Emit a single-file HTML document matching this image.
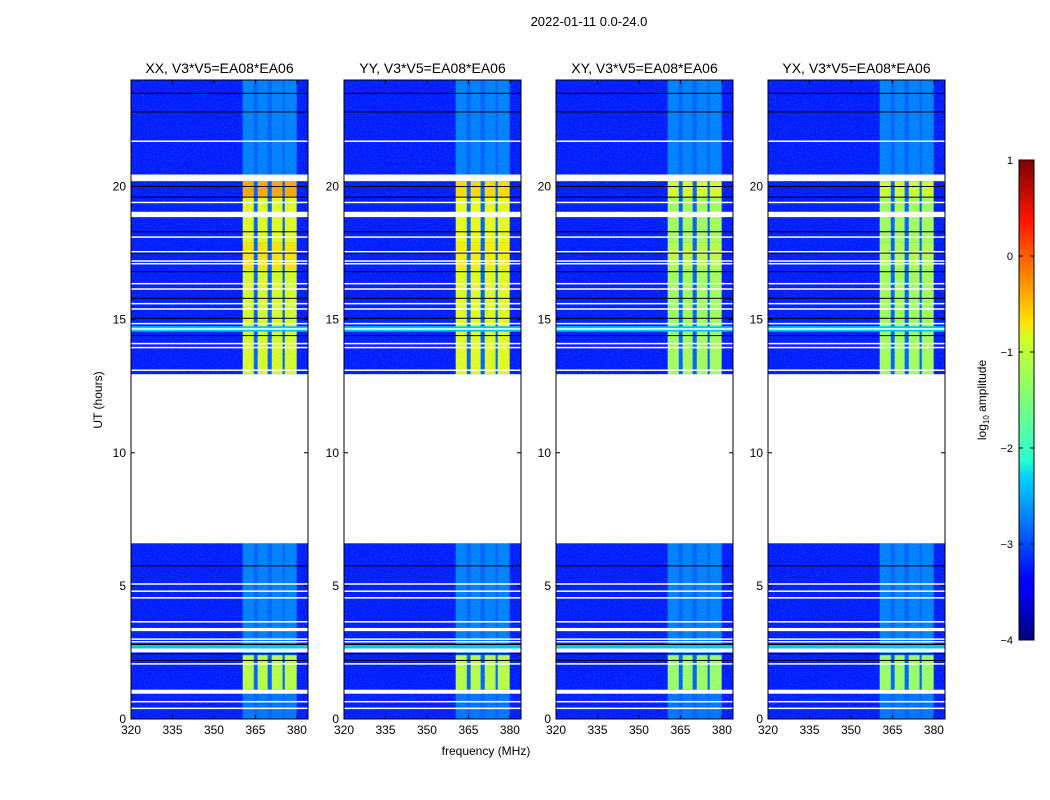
<!DOCTYPE html>
<html><head><meta charset="utf-8"><style>
body{margin:0;background:#fff;}
svg{display:block;font-family:"Liberation Sans",sans-serif;}
</style></head><body>
<svg id="chart" width="1050" height="800" viewBox="0 0 1050 800">
<defs>
<linearGradient id="jetgrad" x1="0" y1="1" x2="0" y2="0">
<stop offset="0" stop-color="#00007f"/><stop offset="0.11" stop-color="#0000ff"/><stop offset="0.125" stop-color="#0000ff"/>
<stop offset="0.34" stop-color="#00d4ff"/><stop offset="0.375" stop-color="#29ffce"/><stop offset="0.5" stop-color="#7dff7a"/>
<stop offset="0.625" stop-color="#ceff29"/><stop offset="0.66" stop-color="#ffe500"/><stop offset="0.875" stop-color="#ff1400"/>
<stop offset="1" stop-color="#7f0000"/></linearGradient>
<filter id="noise" x="0" y="0" width="100%" height="100%"><feTurbulence type="fractalNoise" baseFrequency="0.9" numOctaves="1" seed="3"/><feColorMatrix values="0 0 0 0 0.1  0 0 0 0 0.5  0 0 0 0 1  0 0 0 1.2 -0.6"/></filter>
</defs>
<text x="589" y="26" font-size="13" text-anchor="middle">2022-01-11 0.0-24.0</text>
<g id="panels"></g>
<g id="cbar"></g>
<text x="486" y="755" font-size="12" text-anchor="middle">frequency (MHz)</text>
<text transform="translate(102,400) rotate(-90)" font-size="12" text-anchor="middle">UT (hours)</text>
</svg>
<script>
const titles=["XX, V3*V5=EA08*EA06","YY, V3*V5=EA08*EA06","XY, V3*V5=EA08*EA06","YX, V3*V5=EA08*EA06"];
const panelX=[131,344,556,768];
const bandStart=[360.4,365.8,370.9,375.6];
const bandEnd=[364.4,369.4,374.8,379.9];
const segStart=[0,1.1,2.4,12.95,16.9,17.9,19.6,20.45];
const segEnd=[1.1,2.4,6.6,16.9,17.9,19.6,20.2,24];
const levelXX=[-2.8,-1.2,-2.75,-1.05,-0.75,-1.0,-0.45,-2.75];
const levelYY=[-2.8,-1.2,-2.75,-1.0,-0.8,-0.95,-0.7,-2.75];
const levelXY=[-2.8,-1.35,-2.75,-1.3,-1.2,-1.3,-1.05,-2.75];
const levelYX=[-2.8,-1.35,-2.75,-1.3,-1.25,-1.3,-1.1,-2.75];
const levels=[levelXX,levelYY,levelXY,levelYX];
const bgLevel=-3.25;
const gapLevel=-2.9;
const flagStart=[6.6,20.2,18.85,0.95,2.5,3.3];
const flagEnd=[12.95,20.45,19.05,1.1,2.65,3.42];
const whiteLines=[21.7,19.4,18.1,17.55,17.2,17.1,16.35,16.15,15.6,15.4,14.85,14.65,14.1,13.95,13.1,5.07,4.8,4.55,3.65,3.0,2.9,2.07,0.65,0.4];
const blackLines=[23.5,22.8,20.0,19.6,18.3,17.5,16.8,15.8,15.05,14.4,5.75,2.8,2.45,2.2];
const cyanStart=[14.55,2.65];
const cyanEnd=[14.75,2.78];
const yTicks=[0,5,10,15,20];
const xTicks=[320,335,350,365,380];
const cbTicks=[-4,-3,-2,-1,0,1];

const NS="http://www.w3.org/2000/svg";
const topY=80,H=639,W=177;
const yS=h=>topY+H-(h/24)*H;
function jet(v){const t=Math.max(0,Math.min(1,(v+4)/5));const c=x=>Math.round(255*Math.max(0,Math.min(1,1.5-Math.abs(4*t-x))));return `rgb(${c(3)},${c(2)},${c(1)})`;}
function el(tag,attrs,parent){const e=document.createElementNS(NS,tag);for(const k in attrs)e.setAttribute(k,attrs[k]);parent.appendChild(e);return e;}
const pg=document.getElementById('panels');
panelX.forEach((x0,p)=>{
  const xS=f=>x0+(f-320)*W/64;
  const g=el('g',{},pg);
  
  
  const bg=el('rect',{x:x0,y:topY,width:W,height:H,fill:jet(bgLevel)},g);
  
  
  segStart.forEach((s,i)=>{
    const r=el('rect',{x:xS(bandStart[0]),y:yS(segEnd[i]),width:xS(bandEnd[3])-xS(bandStart[0]),height:yS(s)-yS(segEnd[i]),fill:jet(gapLevel)},g);
    
    
    bandStart.forEach((b,j)=>{
      const c=el('rect',{x:xS(b),y:yS(segEnd[i]),width:xS(bandEnd[j])-xS(b),height:yS(s)-yS(segEnd[i]),fill:jet(levels[p][i])},g);
      
      
    });
  });
  el('rect',{x:x0,y:topY,width:W,height:H,filter:'url(#noise)'},g);
  cyanStart.forEach((s,i)=>{
    const r=el('rect',{x:x0,y:yS(cyanEnd[i]),width:W,height:yS(s)-yS(cyanEnd[i]),fill:jet(-2.4)},g);
    
    
  });
  blackLines.forEach(h=>{
    const r=el('rect',{x:x0,y:yS(h)-0.5,width:W,height:1,fill:'#000'},g);
    
    
  });
  whiteLines.forEach(h=>{
    const r=el('rect',{x:x0,y:yS(h)-0.75,width:W,height:1.5,fill:'#fff'},g);
    
    
  });
  flagStart.forEach((s,i)=>{
    const r=el('rect',{x:x0,y:yS(flagEnd[i]),width:W,height:yS(s)-yS(flagEnd[i]),fill:'#fff'},g);
    
    
  });
  const fr=el('rect',{x:x0,y:topY,width:W,height:H,fill:'none',stroke:'#000','stroke-width':1},g);
  
  
  const t=el('text',{x:x0+W/2,y:73,'font-size':14,'text-anchor':'middle'},g);
  t.textContent=titles[p];
  
  
  yTicks.forEach(v=>{
    const y=yS(v);
    el('line',{x1:x0,x2:x0+4,y1:y,y2:y,stroke:'#000'},g);
    el('line',{x1:x0+W,x2:x0+W-4,y1:y,y2:y,stroke:'#000'},g);
    const l=el('text',{x:x0-5,y:y+4,'font-size':12,'text-anchor':'end'},g);
    l.textContent=v;
    
    
  });
  xTicks.forEach(v=>{
    const x=xS(v);
    el('line',{x1:x,x2:x,y1:topY+H,y2:topY+H-4,stroke:'#000'},g);
    el('line',{x1:x,x2:x,y1:topY,y2:topY+4,stroke:'#000'},g);
    const l=el('text',{x:x,y:topY+H+15,'font-size':12,'text-anchor':'middle'},g);
    l.textContent=v;
    
    
  });
});
const cb=document.getElementById('cbar');
const cbY=v=>640-(v+4)/5*480;
const bar=el('rect',{x:1019,y:160,width:15,height:480,fill:'url(#jetgrad)',stroke:'#000'},cb);


cbTicks.forEach(v=>{
  const y=cbY(v);
  el('line',{x1:1019,x2:1023,y1:y,y2:y,stroke:'#000'},cb);
  el('line',{x1:1034,x2:1030,y1:y,y2:y,stroke:'#000'},cb);
  const l=el('text',{x:1013,y:y+4,'font-size':11,'text-anchor':'end'},cb);
  l.textContent=v<0?'\u2212'+(-v):v;
  
  
});
const cl=el('text',{transform:'translate(986,400) rotate(-90)','font-size':12,'text-anchor':'middle'},cb);
cl.innerHTML='log<tspan font-size="8" dy="3">10</tspan><tspan dy="-3"> amplitude</tspan>';


</script>
</body></html>
